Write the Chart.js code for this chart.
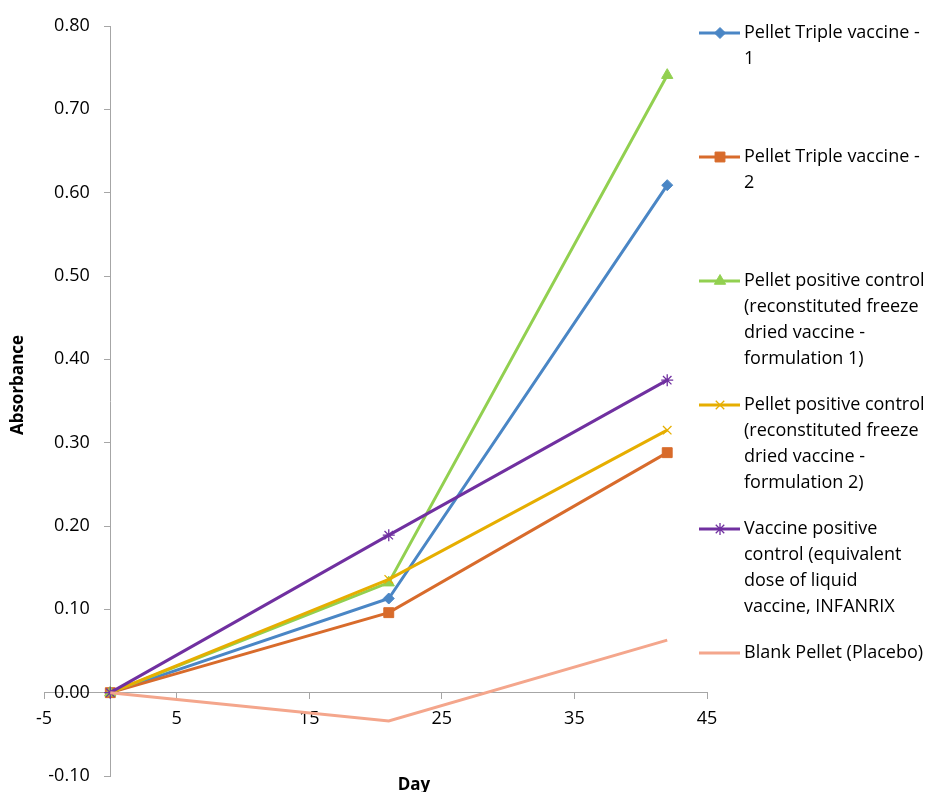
<!DOCTYPE html>
<html><head><meta charset="utf-8">
<script src="https://cdn.jsdelivr.net/npm/chart.js@4"></script>
<style>html,body{margin:0;padding:0;background:#fff}#wrap{width:928px;height:792px;position:relative}</style>
</head><body><div id="wrap"><canvas id="c" width="928" height="792"></canvas></div>
<script>
// ---- data ----
const days = [0, 21, 42];
const seriesLabels = [
  'Pellet Triple vaccine - 1',
  'Pellet Triple vaccine - 2',
  'Pellet positive control (reconstituted freeze dried vaccine - formulation 1)',
  'Pellet positive control (reconstituted freeze dried vaccine - formulation 2)',
  'Vaccine positive control (equivalent dose of liquid vaccine, INFANRIX',
  'Blank Pellet (Placebo)'
];
const legendLines = [
  ['Pellet Triple vaccine -', '1'],
  ['Pellet Triple vaccine -', '2'],
  ['Pellet positive control', '(reconstituted freeze', 'dried vaccine -', 'formulation 1)'],
  ['Pellet positive control', '(reconstituted freeze', 'dried vaccine -', 'formulation 2)'],
  ['Vaccine positive', 'control (equivalent', 'dose of liquid', 'vaccine, INFANRIX'],
  ['Blank Pellet (Placebo)']
];
const triple1 = [0, 0.113, 0.609];
const triple2 = [0, 0.096, 0.288];
const posCtrl1 = [0, 0.132, 0.741];
const posCtrl2 = [0, 0.136, 0.315];
const vaccineCtrl = [0, 0.189, 0.375];
const blankPellet = [0, -0.034, 0.063];
const xTicks = [-5, 5, 15, 25, 35, 45];
const yTicks = [-0.1, 0, 0.1, 0.2, 0.3, 0.4, 0.5, 0.6, 0.7, 0.8];
const xTitle = 'Day';
const yTitle = 'Absorbance';

// ---- styles ----
const seriesValues = [triple1, triple2, posCtrl1, posCtrl2, vaccineCtrl, blankPellet];
const colors = ['#4A86C5', '#D86B2B', '#92D050', '#E6AE00', '#7030A0', '#F4A68C'];
const markers = ['rectRot', 'rect', 'triangle', 'crossRot', 'star', 'circle'];
const radii = [5.5, 7, 6.5, 6, 6, 0];
const FONT = '"Open Sans", Lato, sans-serif';
const axisColor = '#A6A6A6';

const datasets = seriesValues.map((vals, i) => ({
  label: seriesLabels[i],
  data: days.map((d, k) => ({x: d, y: vals[k]})),
  borderColor: colors[i],
  backgroundColor: colors[i],
  pointBackgroundColor: colors[i],
  pointBorderColor: colors[i],
  pointBorderWidth: (markers[i] === 'crossRot' || markers[i] === 'star') ? 1.3 : 1,
  pointStyle: markers[i],
  pointRadius: radii[i],
  pointHoverRadius: radii[i],
  borderWidth: 3,
  tension: 0,
  fill: false,
  order: seriesValues.length - 1 - i
}));

const sideLegend = {
  id: 'sideLegend',
  afterDraw(chart) {
    const ctx = chart.ctx;
    ctx.save();
    chart.data.datasets.forEach((ds, i) => {
      const top = 33 + i * 124;
      ctx.strokeStyle = ds.borderColor;
      ctx.lineWidth = 3;
      ctx.beginPath(); ctx.moveTo(699, top); ctx.lineTo(740, top); ctx.stroke();
      if (ds.pointRadius > 0) {
        ctx.fillStyle = ds.pointBackgroundColor;
        ctx.strokeStyle = ds.pointBorderColor;
        ctx.lineWidth = ds.pointBorderWidth;
        Chart.helpers.drawPoint(ctx, {pointStyle: ds.pointStyle, radius: ds.pointRadius, borderWidth: ds.pointBorderWidth, rotation: 0}, 720, top);
      }
      ctx.fillStyle = '#000';
      ctx.font = '18px ' + FONT;
      ctx.textAlign = 'left';
      ctx.textBaseline = 'middle';
      legendLines[i].forEach((t, k) => ctx.fillText(t, 744, top + k * 26));
    });
    ctx.font = 'bold 17px ' + FONT;
    ctx.fillStyle = '#000';
    ctx.textAlign = 'center';
    ctx.textBaseline = 'middle';
    ctx.fillText(xTitle, 414, 785);
    ctx.translate(18, 385);
    ctx.rotate(-Math.PI / 2);
    ctx.fillText(yTitle, 0, 0);
    ctx.restore();
  }
};

new Chart(document.getElementById('c'), {
  type: 'line',
  data: {datasets},
  options: {
    responsive: false,
    animation: false,
    layout: {padding: {left: 44, right: 221, top: 26, bottom: 16}},
    plugins: {legend: {display: false}, tooltip: {enabled: false}},
    scales: {
      x: {
        type: 'linear', min: -5, max: 45, position: {y: 0},
        afterBuildTicks: s => { s.ticks = xTicks.map(v => ({value: v})); },
        afterFit: s => { s.height = 0; },
        grid: {display: true, drawOnChartArea: false, drawTicks: true, tickLength: 6, color: axisColor},
        border: {display: true, color: axisColor, width: 1},
        ticks: {color: '#000', font: {family: FONT, size: 18}, padding: 9, maxRotation: 0, autoSkip: false, callback: v => String(v)}
      },
      y: {
        type: 'linear', min: -0.1, max: 0.8, position: {x: 0},
        afterBuildTicks: s => { s.ticks = yTicks.map(v => ({value: v})); },
        afterFit: s => { s.width = 0; },
        grid: {display: true, drawOnChartArea: false, drawTicks: true, tickLength: 6, color: axisColor},
        border: {display: true, color: axisColor, width: 1},
        ticks: {color: '#000', font: {family: FONT, size: 18}, padding: 0, autoSkip: false, callback: v => v.toFixed(2) + '\u2007\u2007'}
      }
    }
  },
  plugins: [sideLegend]
});
</script></body></html>
